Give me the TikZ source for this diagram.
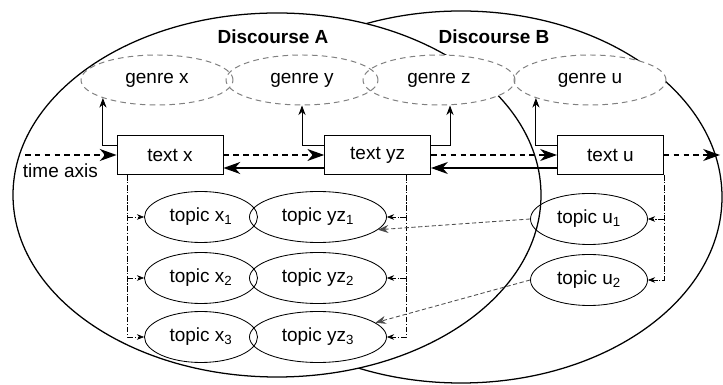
\documentclass[tikz,border=0pt]{standalone}
\usepackage{fontspec}
\setmainfont{Liberation Sans}
\usetikzlibrary{shapes,arrows.meta,backgrounds}

\tikzset{
  disc/.style={draw, ellipse, line width=0.9pt, fill=white, inner sep=0pt},
  genre/.style={draw=gray, dash pattern=on 4pt off 3pt, line width=0.7pt, ellipse, minimum width=3.8cm, minimum height=1.25cm, inner sep=0pt},
  textbox/.style={draw, rectangle, line width=0.6pt, fill=white, minimum width=2.65cm, minimum height=0.975cm, inner sep=0pt},
  topic/.style={draw, ellipse, line width=0.6pt, minimum height=1.275cm, inner sep=0pt},
  flow/.style={line width=0.9pt, -{Stealth[length=4.2mm,width=3mm,inset=1.3mm]}},
  up/.style={line width=0.6pt, -{Stealth[length=2.4mm,width=1.8mm]}},
  link/.style={line width=0.4pt, dash pattern=on 4pt off 1.2pt on 0.8pt off 1.2pt, -{Stealth[length=1.8mm,width=1.4mm]}},
  shared/.style={line width=0.6pt, gray!60!black, dash pattern=on 3pt off 1.8pt, -{Stealth[length=2.6mm,width=2mm]}},
}

\begin{document}
\begin{tikzpicture}[font=\fontsize{13.5}{16}\selectfont]
\useasboundingbox (0,0) rectangle (18.075,-9.625);

% genres
\node [genre] (gx) at (3.925,-2.0) {genre x};
\node [genre] (gy) at (7.55,-2.0) {genre y};
\node [genre] (gz) at (10.975,-2.0) {genre z};
\node [genre] (gu) at (14.75,-2.0) {genre u};

\node [font=\fontsize{13.5}{16}\selectfont\bfseries] (titleA) at (6.825,-0.925) {Discourse A};
\node [font=\fontsize{13.5}{16}\selectfont\bfseries] (titleB) at (12.35,-0.925) {Discourse B};

% texts
\node [textbox] (tx) at (4.25,-3.875) {text x};
\node [textbox] (tyz) at (9.44,-3.875) {text yz};
\node [textbox] (tu) at (15.26,-3.875) {text u};

% topics
\node [topic, minimum width=2.825cm] (x1) at (5.025,-5.425) {topic x\textsubscript{1}};
\node [topic, minimum width=2.825cm] (x2) at (5.025,-6.95) {topic x\textsubscript{2}};
\node [topic, minimum width=2.825cm] (x3) at (5.025,-8.425) {topic x\textsubscript{3}};
\node [topic, minimum width=3.425cm] (yz1) at (7.95,-5.425) {topic yz\textsubscript{1}};
\node [topic, minimum width=3.425cm] (yz2) at (7.95,-6.95) {topic yz\textsubscript{2}};
\node [topic, minimum width=3.425cm] (yz3) at (7.95,-8.425) {topic yz\textsubscript{3}};
\node [topic, minimum width=2.925cm] (u1) at (14.725,-5.475) {topic u\textsubscript{1}};
\node [topic, minimum width=2.925cm] (u2) at (14.725,-7.0) {topic u\textsubscript{2}};

\begin{scope}[on background layer]
\node [disc, minimum width=13.05cm, minimum height=9.3cm] (discB) at (11.525,-4.925) {};
\node [disc, minimum width=13.2cm, minimum height=9.1cm] (discA) at (6.925,-4.875) {};
\fill [white] (gx.center) ellipse (1.9cm and 0.625cm);
\fill [white] (gy.center) ellipse (1.9cm and 0.625cm);
\fill [white] (gz.center) ellipse (1.9cm and 0.625cm);
\fill [white] (gu.center) ellipse (1.9cm and 0.625cm);
\end{scope}

% time axis
\coordinate (tstart) at (0.625,-3.875);
\coordinate (tend) at (18.0,-3.875);
\node [inner sep=0pt] (tlabel) at (1.51,-4.275) {time axis};
\draw [flow, dash pattern=on 4pt off 3pt] (tstart) -- (tx);
\draw [flow, dash pattern=on 4pt off 3pt] (tx) -- (tyz);
\draw [flow, dash pattern=on 4pt off 3pt] (tyz) -- (tu);
\draw [flow, dash pattern=on 4pt off 3pt] (tu) -- (tend);
\draw [flow] ([yshift=-0.325cm]tyz.west) -- ([yshift=-0.325cm]tx.east);
\draw [flow] ([yshift=-0.325cm]tu.west) -- ([yshift=-0.325cm]tyz.east);

% text -> genre
\draw [up] ([yshift=0.25cm]tx.west) -| (gx.south west);
\draw [up] ([yshift=0.25cm]tyz.west) -| (gy.south);
\draw [up] ([yshift=0.25cm]tyz.east) -| ([xshift=0.275cm]gz.south);
\draw [up] ([yshift=0.25cm]tu.west) -| (gu.south west);

% text -> topics
\coordinate (lx) at ([xshift=0.275cm]tx.south west);
\draw [link] (lx) |- (x3.west);
\draw [link] (lx |- x1.west) -- (x1.west);
\draw [link] (lx |- x2.west) -- (x2.west);
\coordinate (ly) at ([xshift=-0.625cm]tyz.south east);
\draw [link] (ly) |- (yz3.east);
\draw [link] (ly |- yz1.east) -- (yz1.east);
\draw [link] (ly |- yz2.east) -- (yz2.east);
\draw [link] (tu.south east) |- (u2.east);
\draw [link] (tu.south east |- u1.east) -- (u1.east);

% shared topics
\draw [shared] (u1.west) -- (yz1.-12);
\draw [shared] (u2.west) -- (yz3.14);
\end{tikzpicture}
\end{document}
